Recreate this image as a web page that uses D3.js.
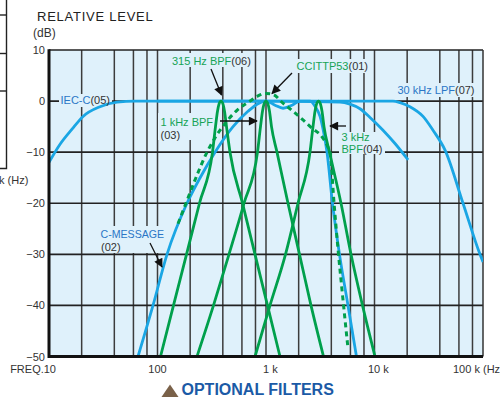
<!DOCTYPE html>
<html><head><meta charset="utf-8">
<script src="https://cdn.jsdelivr.net/npm/d3@7/dist/d3.min.js"></script>
<style>
html,body{margin:0;padding:0;background:#fff;}
svg{display:block;font-family:"Liberation Sans",Arial,Helvetica,sans-serif;}
</style></head><body>
<svg id="chart" width="500" height="397"></svg>
<script>
// Relative level (dB) of each optional weighting filter versus frequency (Hz)
const iecCFreq  = [10, 12.6, 16.3, 20.6, 29.5, 42.4, 62.1, 1000, 4810, 5940, 7350, 9090, 11980, 15450, 20400];
const iecCLevel = [-12, -8.5, -5.5, -3, -1.1, -0.2, 0, 0, -0.2, -0.6, -1.5, -3.2, -5.7, -8.3, -11.5];

const lpfFreq  = [100, 14800, 17200, 21200, 28000, 34600, 44700, 65400, 93800, 100000];
const lpfLevel = [0, 0, -0.3, -1.1, -3, -5.7, -9.6, -20, -30, -31.5];

const cMsgFreq  = [66.1, 90.9, 122.4, 187, 247, 339, 497, 682, 844, 1000, 1211, 1435, 1738, 2057, 2545, 2830, 3148, 3392, 3648, 4100, 4757, 5697, 6823];
const cMsgLevel = [-50, -40, -30, -20, -15, -10, -5, -2, -0.5, 0, -0.8, -1.4, -0.8, 0, 0, -1, -3, -6, -10, -20, -30, -40, -50];

const p53Freq  = [154.5, 183, 226, 286, 332, 419, 540, 713, 844, 1000, 1161, 1435, 1774, 2193, 2655, 3282, 3726, 3890, 4240, 4612, 5130, 5705];
const p53Level = [-24, -20, -15, -10, -7.5, -4.4, -1.8, 0, 1, 1.5, 1.3, -0.4, -2, -3.7, -5.3, -7, -9, -10, -20, -29, -39, -48.5];

const bpf315Freq  = [106.6, 140.4, 185.1, 243.8, 321.3, 342.4, 357.3, 368.8, 384.8, 401.6, 414.5, 432.5, 465.8, 607.4, 791.9, 1032, 1346];
const bpf315Level = [-50, -40, -30, -20, -10, -5, -2, -0.6, 0, -0.6, -2, -5, -10, -20, -30, -40, -50];

const bpf1kFreq  = [231.2, 328.2, 456, 627, 835, 889.9, 928.5, 958.5, 1000, 1043.4, 1077.1, 1123.8, 1263, 1595, 2036, 2598, 3388];
const bpf1kLevel = [-50, -40, -30, -20, -10, -5, -2, -0.6, 0, -0.6, -2, -5, -10, -20, -30, -40, -50];

const bpf3kFreq  = [791.9, 1088.6, 1512.7, 1972, 2544, 2712, 2830, 2921, 3048, 3180, 3283, 3424, 3848, 4913, 6074, 7752, 10107];
const bpf3kLevel = [-50, -40, -30, -20, -10, -5, -2, -0.6, 0, -0.6, -2, -5, -10, -20, -30, -40, -50];

const levelTicks = [10, 0, -10, -20, -30, -40, -50];
const levelTickText = ["10", "0", "\u221210", "\u221220", "\u221230", "\u221240", "\u221250"];
const decades = [10, 100, 1000, 10000];
const gridSteps = [1, 2, 4, 6, 8];
const freqTicks = [10, 100, 1000, 10000, 100000];
const freqTickText = ["FREQ.10", "100", "1 k", "10 k", "100 k (Hz)"];

const BG = "#dff1fb", BLUE = "#1aa6e4", GREEN = "#00a04c";
const LBLUE = "#2a76c6", LGREEN = "#16a356", INK = "#333";

const svg = d3.select("#chart");
const L = 49, T = 50, R = 483, B = 356.5;
const x = d3.scaleLog().domain([10, 100000]).range([L, R]);
const y = d3.scaleLinear().domain([10, -50]).range([T, B]);

// fragment of the neighbouring panel at the far left
const side = svg.append("g").attr("stroke", "#222").attr("stroke-width", 1.4).attr("fill", "none");
side.append("path").attr("d", "M6.5,0V168.5H0");
[15, 53.5, 91].forEach(v => side.append("line").attr("x1", 0).attr("x2", 6.5).attr("y1", v).attr("y2", v));
svg.append("text").attr("x", -1).attr("y", 184).attr("font-size", 11).attr("fill", INK).text("k (Hz)");

// plot background
svg.append("rect").attr("x", L).attr("y", T).attr("width", R - L).attr("height", B - T).attr("fill", BG);

// grid
const grid = svg.append("g");
const gridFreqs = [];
decades.forEach(d => gridSteps.forEach(s => gridFreqs.push(d * s)));
grid.selectAll("line.v").data(gridFreqs.filter(f => f > 10)).join("line")
  .attr("x1", d => x(d)).attr("x2", d => x(d)).attr("y1", T).attr("y2", B)
  .attr("stroke", "#3c3c3c").attr("stroke-width", 1.5);
grid.selectAll("line.h").data(levelTicks.filter(v => v > -50)).join("line")
  .attr("x1", L).attr("x2", R).attr("y1", d => y(d)).attr("y2", d => y(d))
  .attr("stroke", "#222").attr("stroke-width", d => d === 10 ? 1.4 : 1.6);
svg.append("line").attr("x1", R).attr("x2", R).attr("y1", T).attr("y2", B).attr("stroke", "#333").attr("stroke-width", 1.5);

// label plates that mask the grid behind the annotations
const plates = [[59, 94, 53, 13], [170, 53, 82, 14], [158, 113, 56, 27], [294, 59, 74, 14],
                [395, 83, 80, 14], [339, 132, 46, 22], [98, 226, 67, 27]];
svg.append("g").selectAll("rect").data(plates).join("rect")
  .attr("x", d => d[0]).attr("y", d => d[1]).attr("width", d => d[2]).attr("height", d => d[3]).attr("fill", BG);

// curves
svg.append("clipPath").attr("id", "plotClip").append("rect")
  .attr("x", L).attr("y", T - 2).attr("width", R - L).attr("height", B - T + 2);
const line = d3.line().x(d => x(d[0])).y(d => y(d[1])).curve(d3.curveMonotoneX);
const zip = (f, l) => f.map((v, i) => [v, l[i]]);
const curves = svg.append("g").attr("clip-path", "url(#plotClip)").attr("fill", "none")
  .attr("stroke-linejoin", "round").attr("stroke-linecap", "butt");
const series = [
  {f: iecCFreq, l: iecCLevel, c: BLUE},
  {f: lpfFreq, l: lpfLevel, c: BLUE},
  {f: cMsgFreq, l: cMsgLevel, c: BLUE},
  {f: bpf315Freq, l: bpf315Level, c: GREEN},
  {f: bpf1kFreq, l: bpf1kLevel, c: GREEN},
  {f: bpf3kFreq, l: bpf3kLevel, c: GREEN},
  {f: p53Freq, l: p53Level, c: GREEN, dash: "5,4"}
];
series.forEach(s => curves.append("path").attr("d", line(zip(s.f, s.l)))
  .attr("stroke", s.c).attr("stroke-dasharray", s.dash || null).attr("stroke-width", s.dash ? 3 : 2.8));

// axes frame
svg.append("line").attr("x1", L).attr("x2", L).attr("y1", T - 0.7).attr("y2", B + 1.5).attr("stroke", "#111").attr("stroke-width", 3);
svg.append("line").attr("x1", L).attr("x2", R).attr("y1", B).attr("y2", B).attr("stroke", "#111").attr("stroke-width", 2.8);

// level axis labels
svg.append("g").selectAll("text").data(levelTicks).join("text")
  .attr("x", 45).attr("y", d => y(d) + 4).attr("text-anchor", "end")
  .attr("font-size", 11).attr("fill", INK).text((d, i) => levelTickText[i]);

// frequency axis labels
const fx = [{a: "end", dx: 7}, {a: "middle", dx: 0}, {a: "start", dx: -3}, {a: "start", dx: -6.5}, {a: "start", dx: -30}];
svg.append("g").selectAll("text").data(freqTicks).join("text")
  .attr("x", (d, i) => x(d) + fx[i].dx).attr("y", 373).attr("text-anchor", (d, i) => fx[i].a)
  .attr("font-size", 11).attr("fill", INK).text((d, i) => freqTickText[i]);

// titles
svg.append("text").attr("x", 37).attr("y", 20.5).attr("font-size", 13).attr("letter-spacing", 0.75)
  .attr("fill", "#222").text("RELATIVE LEVEL");
svg.append("text").attr("x", 33).attr("y", 37).attr("font-size", 12).attr("fill", INK).text("(dB)");

// annotations: [x, y, name, code, colour]
const notes = [
  [60.5, 104, "IEC-C", "(05)", LBLUE],
  [172, 64.5, "315 Hz BPF", "(06)", LGREEN],
  [296.5, 70, "CCITTP53", "(01)", LGREEN],
  [397.5, 94, "30 kHz LPF", "(07)", LBLUE],
  [341.5, 152.5, "BPF", "(04)", LGREEN]
];
notes.forEach(n => {
  const t = svg.append("text").attr("x", n[0]).attr("y", n[1]).attr("font-size", 11);
  t.append("tspan").attr("fill", n[4]).text(n[2]);
  t.append("tspan").attr("fill", INK).text(n[3]);
});
svg.append("text").attr("x", 341.5).attr("y", 141).attr("font-size", 11).attr("fill", LGREEN).text("3 kHz");
svg.append("text").attr("x", 160.5).attr("y", 125.5).attr("font-size", 11).attr("fill", LGREEN).text("1 kHz BPF");
svg.append("text").attr("x", 160.5).attr("y", 138.5).attr("font-size", 11).attr("fill", INK).text("(03)");
svg.append("text").attr("x", 100.5).attr("y", 237.5).attr("font-size", 10.6).attr("fill", LBLUE).text("C-MESSAGE");
svg.append("text").attr("x", 101).attr("y", 250.5).attr("font-size", 11).attr("fill", INK).text("(02)");

// pointer arrows
const defs = svg.append("defs");
defs.append("marker").attr("id", "head").attr("viewBox", "0 0 10 10").attr("refX", 9).attr("refY", 5)
  .attr("markerWidth", 10).attr("markerHeight", 9).attr("markerUnits", "userSpaceOnUse").attr("orient", "auto")
  .append("path").attr("d", "M0,0L10,5L0,10Z").attr("fill", "#111");
const arrows = [[211, 69, 221.5, 95], [292, 73, 272, 93.5], [220, 121, 257, 121], [346, 126, 330, 126], [150, 243, 162, 267]];
svg.append("g").selectAll("line").data(arrows).join("line")
  .attr("x1", d => d[0]).attr("y1", d => d[1]).attr("x2", d => d[2]).attr("y2", d => d[3])
  .attr("stroke", "#111").attr("stroke-width", 1.3).attr("marker-end", "url(#head)");

// caption
svg.append("path").attr("d", "M161.5,397L170,384.5L178.5,397Z").attr("fill", "#7a6149");
svg.append("text").attr("x", 181.5).attr("y", 395).attr("font-size", 16).attr("font-weight", "bold")
  .attr("fill", "#1b5aa6").text("OPTIONAL FILTERS");
</script>
</body></html>
